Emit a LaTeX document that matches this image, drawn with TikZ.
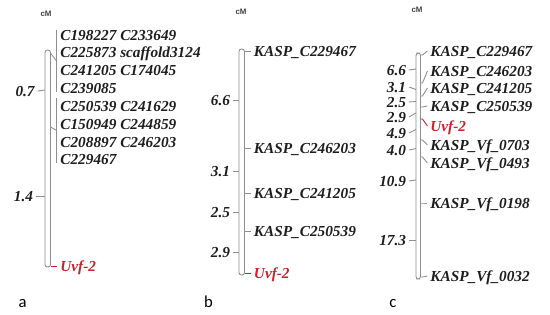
\documentclass[tikz,border=0pt]{standalone}
\usepackage{fontspec}
\setmainfont{Liberation Serif}
\setsansfont{Liberation Sans}
\newfontfamily\panelfont{Carlito}
\definecolor{linegray}{HTML}{8E8E8E}
\definecolor{qtlred}{HTML}{C8232C}
\definecolor{labelblack}{HTML}{1E1E1E}

\begin{document}
\begin{tikzpicture}[x=0.02cm,y=-0.02cm,
 chrom/.style={draw=linegray,line width=0.5pt,rounded corners=1.4pt},
 mk/.style={anchor=west,inner xsep=1.5pt,inner ysep=0.5pt,text height=5.8pt,text depth=0pt,text=labelblack,font=\fontsize{8.7}{10}\selectfont\bfseries\itshape},
 qtl/.style={mk,text=qtlred},
 dist/.style={mk,anchor=east},
 lk/.style={draw=linegray,line width=0.5pt},
 qlk/.style={draw=qtlred,line width=0.5pt},
 cmlabel/.style={text=labelblack!85,inner sep=0pt,font=\sffamily\bfseries\fontsize{4.5}{5}\selectfont},
 panellabel/.style={anchor=base,inner sep=0pt,font=\panelfont\fontsize{9.5}{11}\selectfont}]
\useasboundingbox (0,0) rectangle (550,314);

% panel a
\node[cmlabel] (ua) at (46,14) {cM};
\draw[chrom] (45,50) rectangle (50.5,267);
\coordinate (a0) at (50.5,53);
\coordinate (a1) at (50.5,127);
\coordinate (a2) at (50.5,266);
\coordinate (ga) at (56.5,61);
\coordinate (gb) at (56.5,130.5);
\draw[lk] (56.5,30) -- (ga) -- (56.5,92);
\draw[lk] (56.5,98) -- (gb) -- (56.5,163);
\draw[lk] (a0) -- (ga);
\draw[lk] (a1) -- (gb);
\node[mk] (a01) at (57.4,35) {C198227 C233649};
\node[mk] (a02) at (57.4,52.5) {C225873 scaffold3124};
\node[mk] (a03) at (57.4,70) {C241205 C174045};
\node[mk] (a04) at (57.4,88) {C239085};
\node[mk] (a05) at (57.4,106) {C250539 C241629};
\node[mk] (a06) at (57.4,124) {C150949 C244859};
\node[mk] (a07) at (57.4,142) {C208897 C246203};
\node[mk] (a08) at (57.4,159) {C229467};
\node[qtl] (aq) at (57.4,266) {Uvf-2};
\draw[qlk] (a2) -- (aq.west);
\coordinate (ad1) at (45,90);
\coordinate (ad2) at (45,196);
\node[dist] (a07d) at (37.6,91) {0.7};
\node[dist] (a14d) at (36,196) {1.4};
\draw[lk] (a07d.east) -- (ad1);
\draw[lk] (a14d.east) -- (ad2);
\node[panellabel] (pa) at (22.5,307) {a};

% panel b
\node[cmlabel] (ub) at (241,12) {cM};
\draw[chrom] (239,49) rectangle (244.5,275);
\coordinate (b0) at (244.5,51);
\coordinate (b1) at (244.5,148);
\coordinate (b2) at (244.5,193);
\coordinate (b3) at (244.5,231);
\coordinate (b4) at (244.5,273);
\node[mk] (b0l) at (251,51) {KASP\_C229467};
\node[mk] (b1l) at (251,148) {KASP\_C246203};
\node[mk] (b2l) at (251,193) {KASP\_C241205};
\node[mk] (b3l) at (251,231) {KASP\_C250539};
\node[qtl] (b4l) at (251,273) {Uvf-2};
\draw[lk] (b0) -- (b0l.west);
\draw[lk] (b1) -- (b1l.west);
\draw[lk] (b2) -- (b2l.west);
\draw[lk] (b3) -- (b3l.west);
\draw[qlk] (b4) -- (b4l.west);
\coordinate (bd1) at (239,100);
\coordinate (bd2) at (239,171);
\coordinate (bd3) at (239,212);
\coordinate (bd4) at (239,252);
\node[dist] (b66) at (233,100) {6.6};
\node[dist] (b31) at (233,171) {3.1};
\node[dist] (b25) at (233,212) {2.5};
\node[dist] (b29) at (233,252) {2.9};
\draw[lk] (b66.east) -- (bd1);
\draw[lk] (b31.east) -- (bd2);
\draw[lk] (b25.east) -- (bd3);
\draw[lk] (b29.east) -- (bd4);
\node[panellabel] (pb) at (208.5,307) {b};

% panel c
\node[cmlabel] (uc) at (417,10) {cM};
\draw[chrom] (416,53) rectangle (420.5,279);
\coordinate (c0) at (420.5,55);
\coordinate (c1) at (420.5,83);
\coordinate (c2) at (420.5,96);
\coordinate (c3) at (420.5,107);
\coordinate (c4) at (420.5,119);
\coordinate (c5) at (420.5,140);
\coordinate (c6) at (420.5,157);
\coordinate (c7) at (420.5,203);
\coordinate (c8) at (420.5,277);
\node[mk] (c0l) at (427.4,51) {KASP\_C229467};
\node[mk] (c1l) at (427.4,71) {KASP\_C246203};
\node[mk] (c2l) at (427.4,88) {KASP\_C241205};
\node[mk] (c3l) at (427.4,106) {KASP\_C250539};
\node[qtl] (c4l) at (427.4,126) {Uvf-2};
\node[mk] (c5l) at (427.4,145) {KASP\_Vf\_0703};
\node[mk] (c6l) at (427.4,163) {KASP\_Vf\_0493};
\node[mk] (c7l) at (427.4,203) {KASP\_Vf\_0198};
\node[mk] (c8l) at (427.4,276) {KASP\_Vf\_0032};
\draw[lk] (c0) -- +(2,0) -- (c0l.west);
\draw[lk] (c1) -- +(2,0) -- (c1l.west);
\draw[lk] (c2) -- +(2,0) -- (c2l.west);
\draw[lk] (c3) -- +(2,0) -- (c3l.west);
\draw[qlk] (c4) -- +(2,0) -- (c4l.west);
\draw[lk] (c5) -- +(2,0) -- (c5l.west);
\draw[lk] (c6) -- +(2,0) -- (c6l.west);
\draw[lk] (c7) -- +(2,0) -- (c7l.west);
\draw[lk] (c8) -- +(2,0) -- (c8l.west);
\coordinate (cd1) at (416,69);
\coordinate (cd2) at (416,89.5);
\coordinate (cd3) at (416,101.5);
\coordinate (cd4) at (416,113);
\coordinate (cd5) at (416,129.5);
\coordinate (cd6) at (416,148.5);
\coordinate (cd7) at (416,180);
\coordinate (cd8) at (416,240);
\node[dist] (c66) at (409,70) {6.6};
\node[dist] (c31) at (409,87) {3.1};
\node[dist] (c25) at (409,102) {2.5};
\node[dist] (c29) at (409,117) {2.9};
\node[dist] (c49) at (409,133) {4.9};
\node[dist] (c40) at (409,150) {4.0};
\node[dist] (c109) at (409,181) {10.9};
\node[dist] (c173) at (409,240) {17.3};
\draw[lk] (c66.east) -- (cd1);
\draw[lk] (c31.east) -- (cd2);
\draw[lk] (c25.east) -- (cd3);
\draw[lk] (c29.east) -- (cd4);
\draw[lk] (c49.east) -- (cd5);
\draw[lk] (c40.east) -- (cd6);
\draw[lk] (c109.east) -- (cd7);
\draw[lk] (c173.east) -- (cd8);
\node[panellabel] (pc) at (393,307) {c};
\end{tikzpicture}
\end{document}
